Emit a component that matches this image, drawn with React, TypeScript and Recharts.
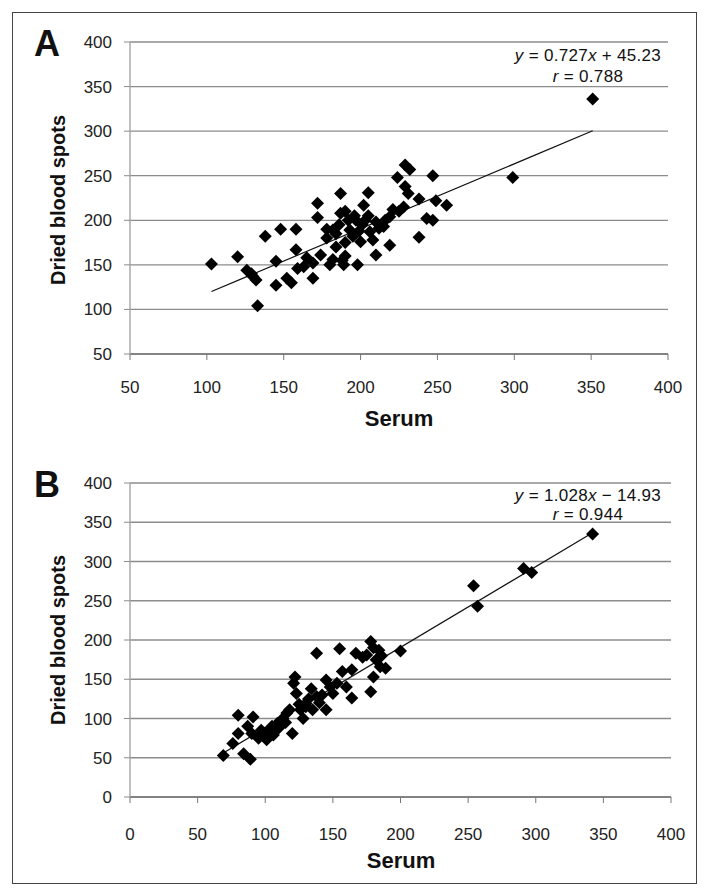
import React from 'react';
import { ScatterChart, Scatter, XAxis, YAxis, CartesianGrid, ReferenceLine } from 'recharts';

// Panel A: serum (x) vs dried blood spots (y)
const serumA = [
  103, 120, 126, 129, 132, 130, 133, 138, 145, 145, 148, 152, 155, 158, 158, 159, 163, 169, 169, 172,
  172, 174, 178, 180, 182, 182, 184, 187, 187, 188, 189, 190, 193, 195, 197, 198, 200, 201, 202, 205,
  206, 208, 210, 212, 215, 219, 219, 221, 224, 229, 229, 231, 232, 238, 238, 243, 247, 247, 249, 256,
  299, 351, 186, 190, 192, 196, 199, 203, 205, 210, 178, 184, 225, 228, 216, 190, 165,
];
const dbsA = [
  151, 159, 144, 140, 133, 137, 104, 182, 154, 127, 190, 135, 130, 190, 167, 146, 148, 152, 135, 219,
  203, 161, 180, 150, 189, 156, 185, 230, 208, 155, 150, 210, 189, 182, 200, 150, 176, 195, 217, 231,
  187, 178, 161, 191, 193, 204, 172, 212, 248, 262, 238, 230, 257, 224, 181, 202, 250, 200, 222, 217,
  248, 336, 195, 175, 200, 205, 188, 200, 205, 198, 190, 170, 210, 215, 200, 160, 158,
];

// Panel B
const serumB = [
  69, 76, 80, 80, 84, 87, 89, 90, 91, 97, 101, 102, 105, 106, 109, 113, 116, 118, 120, 121,
  122, 123, 126, 128, 130, 132, 134, 135, 138, 138, 140, 145, 145, 150, 153, 155, 157, 160, 164, 164,
  167, 175, 178, 178, 180, 182, 184, 185, 189, 200, 254, 257, 291, 297, 342,
  110, 115, 125, 142, 148, 172, 180, 186, 100, 95, 130,
];
const dbsB = [
  53, 68, 81, 104, 55, 90, 48, 81, 102, 85, 73, 81, 90, 79, 94, 100, 107, 111, 81, 145,
  153, 132, 111, 100, 119, 125, 138, 111, 128, 183, 120, 149, 111, 132, 145, 189, 160, 140, 162, 126,
  183, 181, 198, 134, 153, 175, 187, 166, 164, 186, 269, 243, 291, 286, 335,
  88, 95, 118, 130, 140, 178, 190, 180, 82, 75, 115,
];

const ticksA = [50, 100, 150, 200, 250, 300, 350, 400];
const ticksB = [0, 50, 100, 150, 200, 250, 300, 350, 400];

// regression lines as printed on the figure
const fitA = { slope: 0.727, intercept: 45.23, from: 103, to: 351 };
const fitB = { slope: 1.028, intercept: -14.93, from: 69, to: 342 };

const FONT = "'Liberation Sans', Arial, Helvetica, sans-serif";

const Diamond = (props: any) => {
  const { cx, cy } = props;
  if (cx == null || cy == null) return null;
  const r = 6.5;
  return <path d={`M${cx},${cy - r}L${cx + r},${cy}L${cx},${cy + r}L${cx - r},${cy}Z`} fill="#000" />;
};

interface PanelProps {
  xs: number[];
  ys: number[];
  ticks: number[];
  fit: { slope: number; intercept: number; from: number; to: number };
  top: number;
  margin: { top: number; right: number; bottom: number; left: number };
  xTickMargin: number;
}

const Panel: React.FC<PanelProps> = ({ xs, ys, ticks, fit, top, margin, xTickMargin }) => {
  const data = xs.map((x, i) => ({ x, y: ys[i] }));
  const lo = ticks[0];
  const hi = ticks[ticks.length - 1];
  return (
    <div style={{ position: 'absolute', left: 0, top }}>
      <ScatterChart width={709} height={420} margin={margin}>
        <CartesianGrid vertical={false} stroke="#8c8c8c" strokeWidth={1.3} />
        <XAxis
          type="number"
          dataKey="x"
          domain={[lo, hi]}
          ticks={ticks}
          interval={0}
          height={60}
          tickSize={6}
          tickMargin={xTickMargin}
          axisLine={{ stroke: '#777', strokeWidth: 1.3 }}
          tickLine={{ stroke: '#777' }}
          tick={{ fill: '#222', fontSize: 17, fontFamily: FONT }}
        />
        <YAxis
          type="number"
          dataKey="y"
          domain={[lo, hi]}
          ticks={ticks}
          interval={0}
          width={60}
          tickSize={6}
          tickMargin={12}
          axisLine={{ stroke: '#aaa', strokeWidth: 1.5 }}
          tickLine={{ stroke: '#8c8c8c' }}
          tick={{ fill: '#222', fontSize: 17, fontFamily: FONT }}
        />
        <ReferenceLine
          segment={[
            { x: fit.from, y: fit.slope * fit.from + fit.intercept },
            { x: fit.to, y: fit.slope * fit.to + fit.intercept },
          ]}
          stroke="#111"
          strokeWidth={1.2}
        />
        <Scatter data={data} shape={<Diamond />} isAnimationActive={false} />
      </ScatterChart>
    </div>
  );
};

const abs = (left: number, top: number, extra: React.CSSProperties = {}): React.CSSProperties => ({
  position: 'absolute',
  left,
  top,
  transform: 'translate(-50%, -50%)',
  whiteSpace: 'nowrap',
  fontFamily: FONT,
  color: '#111',
  ...extra,
});

export default function App() {
  const title = { fontWeight: 700, fontSize: 20 } as React.CSSProperties;
  const eq = { fontSize: 17, letterSpacing: 0.3 } as React.CSSProperties;
  return (
    <div style={{ position: 'relative', width: 709, height: 894, margin: -8, background: '#fff', overflow: 'hidden' }}>
      <div style={{ position: 'absolute', left: 12, top: 12, width: 685, height: 872, border: '1.5px solid #444', boxSizing: 'border-box' }} />

      <Panel
        xs={serumA}
        ys={dbsA}
        ticks={ticksA}
        fit={fitA}
        top={0}
        margin={{ top: 42, right: 41, bottom: 6, left: 70 }}
        xTickMargin={21}
      />
      <Panel
        xs={serumB}
        ys={dbsB}
        ticks={ticksB}
        fit={fitB}
        top={440}
        margin={{ top: 43, right: 38, bottom: 3, left: 70 }}
        xTickMargin={25}
      />

      <div style={abs(47, 44, { fontSize: 36, fontWeight: 700 })}>A</div>
      <div style={abs(47, 485, { fontSize: 36, fontWeight: 700 })}>B</div>

      <div style={abs(58, 200, { ...title, transform: 'translate(-50%, -50%) rotate(-90deg)' })}>Dried blood spots</div>
      <div style={abs(58, 640, { ...title, transform: 'translate(-50%, -50%) rotate(-90deg)' })}>Dried blood spots</div>
      <div style={abs(399, 419, { ...title, fontSize: 22 })}>Serum</div>
      <div style={abs(401, 861, { ...title, fontSize: 22 })}>Serum</div>

      <div style={abs(588, 56, eq)}><i>y</i> = 0.727<i>x</i> + 45.23</div>
      <div style={abs(588, 77, eq)}><i>r</i> = 0.788</div>
      <div style={abs(588, 496, eq)}><i>y</i> = 1.028<i>x</i> − 14.93</div>
      <div style={abs(588, 515, eq)}><i>r</i> = 0.944</div>
    </div>
  );
}
